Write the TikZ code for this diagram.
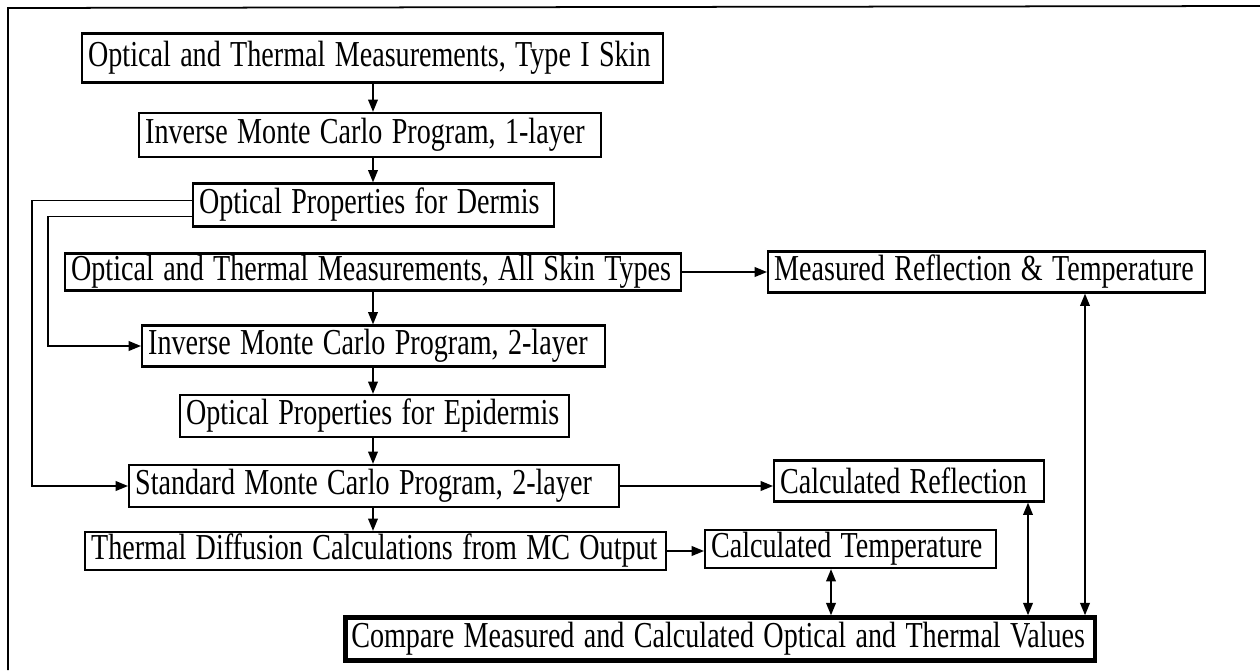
\documentclass[tikz,border=0pt]{standalone}
\usepackage{fontspec}
\setmainfont{Liberation Serif}
\usepackage{tikz}
\usetikzlibrary{arrows.meta,calc}

\newcommand{\stretchtext}[1]{\scalebox{1}[1.3]{#1}}

\tikzset{
  box/.style={draw, line width=1.3pt, text width=#1, align=left, inner xsep=0.12cm,
    inner ysep=1pt, minimum height=0.82cm, font=\fontsize{16}{19}\selectfont},
  bigbox/.style={box=#1, line width=2.6pt},
  arr/.style={-{Triangle[length=7pt,width=5.5pt]}, line width=0.9pt},
  dblarr/.style={{Triangle[length=7pt,width=5.5pt]}-{Triangle[length=7pt,width=5.5pt]}, line width=0.9pt}
}

\begin{document}
\begin{tikzpicture}[x=0.02cm, y=-0.02cm]
  \useasboundingbox (0,0) rectangle (1260,670);
  % frame
  \draw[line width=1pt] (8,670) -- (8,8) -- (1260,6);

  % first pass, one layer
  \node[box=11.38cm, anchor=west, minimum height=0.98cm] (meas1) at (81,58) {\stretchtext{Optical and Thermal Measurements, Type I Skin}};
  \node[box=9.00cm, anchor=west, minimum height=0.88cm] (imc1) at (138,135) {\stretchtext{Inverse Monte Carlo Program, 1-layer}};
  \node[box=6.98cm, anchor=west, minimum height=0.86cm] (dermis) at (192,205) {\stretchtext{Optical Properties for Dermis}};

  % second pass, two layers
  \node[box=12.08cm, anchor=west, minimum height=0.68cm] (measall) at (64,272) {\stretchtext{Optical and Thermal Measurements, All Skin Types}};
  \node[box=9.02cm, anchor=west] (imc2) at (141,346) {\stretchtext{Inverse Monte Carlo Program, 2-layer}};
  \node[box=7.54cm, anchor=west, minimum height=0.84cm] (epi) at (179,416) {\stretchtext{Optical Properties for Epidermis}};
  \node[box=9.56cm, anchor=west, minimum height=0.84cm] (smc) at (128,486) {\stretchtext{Standard Monte Carlo Program, 2-layer}};
  \node[box=11.38cm, anchor=west, minimum height=0.76cm] (diff) at (84,551) {\stretchtext{Thermal Diffusion Calculations from MC Output}};

  % results
  \node[box=8.50cm, anchor=west] (mrt) at (767,272) {\stretchtext{Measured Reflection \& Temperature}};
  \node[box=5.16cm, anchor=west] (cref) at (773,481) {\stretchtext{Calculated Reflection}};
  \node[box=5.58cm, anchor=west, minimum height=0.76cm] (ctemp) at (704,549) {\stretchtext{Calculated Temperature}};
  \node[bigbox=14.76cm, anchor=west, minimum height=0.86cm] (cmp) at (343,639) {\stretchtext{Compare Measured and Calculated Optical and Thermal Values}};

  \coordinate (col) at (373,0);
  \coordinate (inner) at (48,0);
  \coordinate (outer) at (32,0);

  \draw[arr] (meas1.south -| col) -- (imc1.north -| col);
  \draw[arr] (imc1.south -| col) -- (dermis.north -| col);
  \draw[arr] (measall.south -| col) -- (imc2.north -| col);
  \draw[arr] (imc2.south -| col) -- (epi.north -| col);
  \draw[arr] (epi.south -| col) -- (smc.north -| col);
  \draw[arr] (smc.south -| col) -- (diff.north -| col);

  % dermis properties fed forward
  \draw[arr] ([yshift=-0.23cm]dermis.west) -| (inner |- imc2.west) -- (imc2.west);
  \draw[arr] ([yshift=0.09cm]dermis.west) -| (outer |- smc.west) -- (smc.west);

  \draw[arr] (measall.east) -- (mrt.west |- measall.east);
  \draw[arr] (smc.east) -- (cref.west |- smc.east);
  \draw[arr] (diff.east) -- (ctemp.west |- diff.east);

  \draw[dblarr] (ctemp.south -| 831,0) -- (cmp.north -| 831,0);
  \draw[dblarr] (cref.south -| 1028,0) -- (cmp.north -| 1028,0);
  \draw[dblarr] (mrt.south -| 1085,0) -- (cmp.north -| 1085,0);
\end{tikzpicture}
\end{document}
